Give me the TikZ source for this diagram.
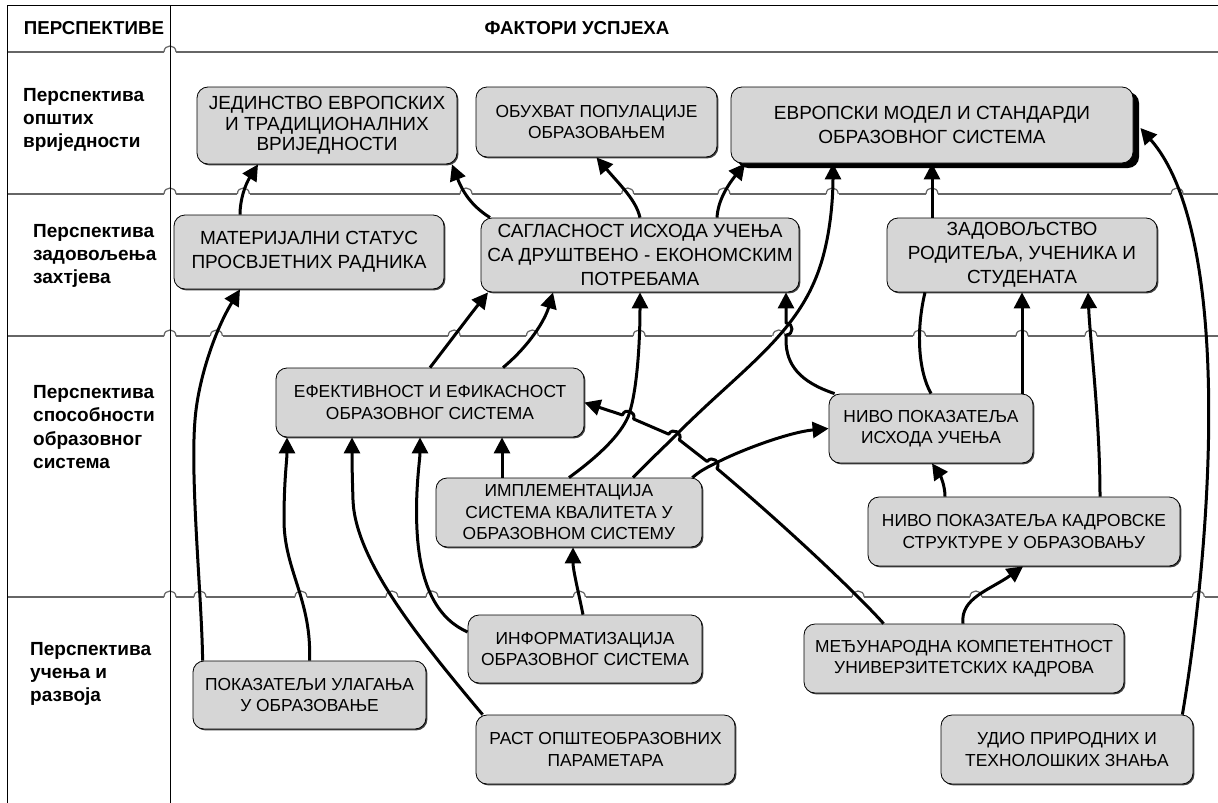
\documentclass[tikz,border=0pt]{standalone}
\usepackage{fontspec}
\setmainfont{Liberation Sans}
\usetikzlibrary{arrows.meta,shadows,intersections,calc}
\definecolor{boxgray}{HTML}{D6D6D6}
\tikzset{
  box/.style={draw=black,line width=0.8pt,fill=boxgray,rounded corners=11pt,align=center,inner sep=0pt,
    drop shadow={shadow xshift=1.4pt,shadow yshift=-1.4pt,fill=black!75,opacity=1}},
  fsm/.style={font=\fontsize{17.4}{21.5}\selectfont},
  fbig/.style={font=\fontsize{19}{24}\selectfont},
  arr/.style={line width=3pt,line join=round,-{Triangle[length=16pt,width=16pt]}},
  conn/.style={line width=3pt},
  rowl/.style={line width=1.2pt,draw=black!60},
  frame/.style={line width=0.9pt,draw=black},
  lab/.style={font=\bfseries\fontsize{19}{23.3}\selectfont,align=left,anchor=west,inner sep=0pt},
  head/.style={font=\bfseries\fontsize{18.7}{22}\selectfont,inner sep=0pt},
}
\newcommand\hopover[2]{%
  \path[name intersections={of=#1 and #2,by={hx}}];
  \fill[white] ([shift={(-6.3pt,-1.8pt)}]hx) rectangle ([shift={(6.3pt,1.8pt)}]hx);
  \draw[rowl] ([xshift=-6pt]hx) .. controls ([shift={(-6pt,8pt)}]hx) and ([shift={(6pt,8pt)}]hx) .. ([xshift=6pt]hx);
}
\begin{document}
\begin{tikzpicture}[x=1pt,y=-1pt]
\useasboundingbox (0,0) rectangle (1218,803);
\fill[white] (0,0) rectangle (1218,803);

% headers and perspective labels
\node[head] (h1) at (94,28) {ПЕРСПЕКТИВЕ};
\node[head] (h2) at (577,28) {ФАКТОРИ УСПЈЕХА};
\node[lab] (l1) at (23,120) {Перспектива\\општих\\вриједности};
\node[lab] (l2) at (33,256) {Перспектива\\задовољења\\захтјева};
\node[lab] (l3) at (33,427) {Перспектива\\способности\\образовног\\система};
\node[lab] (l4) at (30,674) {Перспектива\\учења и\\развоја};

% boxes
\node[box,font=\fontsize{19}{20.5}\selectfont,minimum width=260pt,minimum height=77pt] (jed) at (327,125.5) {ЈЕДИНСТВО ЕВРОПСКИХ\\И ТРАДИЦИОНАЛНИХ\\ВРИЈЕДНОСТИ};
\node[box,fsm,minimum width=241pt,minimum height=70pt] (obu) at (596.5,122) {ОБУХВАТ ПОПУЛАЦИЈЕ\\ОБРАЗОВАЊЕМ};
\node[box,fbig,minimum width=402pt,minimum height=76pt,drop shadow={shadow xshift=6pt,shadow yshift=-5pt,fill=black,opacity=1}] (evr) at (932,125) {ЕВРОПСКИ МОДЕЛ И СТАНДАРДИ\\ОБРАЗОВНОГ СИСТЕМА};
\node[box,fbig,minimum width=270pt,minimum height=74pt] (mat) at (309,252) {МАТЕРИЈАЛНИ СТАТУС\\ПРОСВЈЕТНИХ РАДНИКА};
\node[box,fbig,minimum width=318pt,minimum height=74pt] (sag) at (640,255) {САГЛАСНОСТ ИСХОДА УЧЕЊА\\СА ДРУШТВЕНО - ЕКОНОМСКИМ\\ПОТРЕБАМА};
\node[box,fbig,minimum width=270pt,minimum height=74pt] (zad) at (1022,255) {ЗАДОВОЉСТВО\\РОДИТЕЉА, УЧЕНИКА И\\СТУДЕНАТА};
\node[box,fsm,minimum width=308pt,minimum height=69pt] (ef) at (430,402.5) {ЕФЕКТИВНОСТ И ЕФИКАСНОСТ\\ОБРАЗОВНОГ СИСТЕМА};
\node[box,fsm,minimum width=204pt,minimum height=69pt] (nio) at (931,428.5) {НИВО ПОКАЗАТЕЉА\\ИСХОДА УЧЕЊА};
\node[box,fsm,minimum width=266pt,minimum height=69pt] (imp) at (569,512.5) {ИМПЛЕМЕНТАЦИЈА\\СИСТЕМА КВАЛИТЕТА У\\ОБРАЗОВНОМ СИСТЕМУ};
\node[box,fsm,minimum width=312pt,minimum height=69pt] (nik) at (1024,531.5) {НИВО ПОКАЗАТЕЉА КАДРОВСКЕ\\СТРУКТУРЕ У ОБРАЗОВАЊУ};
\node[box,fsm,minimum width=234pt,minimum height=68pt] (inf) at (585,649) {ИНФОРМАТИЗАЦИЈА\\ОБРАЗОВНОГ СИСТЕМА};
\node[box,fsm,minimum width=320pt,minimum height=69pt] (med) at (964,658.5) {МЕЂУНАРОДНА КОМПЕТЕНТНОСТ\\УНИВЕРЗИТЕТСКИХ КАДРОВА};
\node[box,fsm,minimum width=233pt,minimum height=68pt] (pok) at (309.5,695) {ПОКАЗАТЕЉИ УЛАГАЊА\\У ОБРАЗОВАЊЕ};
\node[box,fsm,minimum width=259pt,minimum height=69pt] (ras) at (605.5,749.5) {РАСТ ОПШТЕОБРАЗОВНИХ\\ПАРАМЕТАРА};
\node[box,fsm,minimum width=252pt,minimum height=69pt] (udi) at (1067,749.5) {УДИО ПРИРОДНИХ И\\ТЕХНОЛОШКИХ ЗНАЊА};

% row lines
\draw[rowl,name path=r1] (7,52) -- (1218,52);
\draw[rowl,name path=r2] (7,194) -- (1218,194);
\draw[rowl,name path=r3] (7,336) -- (1218,336);
\draw[rowl,name path=r4] (7,597) -- (1218,597);
\path[name path=col] (170,5) -- (170,803);

% crossing points of connectors
\coordinate (cg) at (628,417);
\coordinate (ch) at (674,437);
\coordinate (ci) at (712,465);

\def\cnA{([xshift=10pt]pok.north west) .. controls (202,600) and (190,480) .. (195,420) .. controls (198,380) and (215,330) .. ([xshift=-69pt]mat.south)}
\def\cnB{(pok.north) .. controls (312,600) and (284,570) .. (284,520) .. controls (284,480) and (287,460) .. ([xshift=-143pt]ef.south)}
\def\cnC{([xshift=7pt]ras.north west) .. controls (420,640) and (355,560) .. (353,500) .. controls (352,470) and (352,455) .. ([xshift=-78pt]ef.south)}
\def\cnD{([yshift=17pt]inf.west) .. controls (440,620) and (420,590) .. (417,530) .. controls (415,490) and (420,460) .. ([xshift=-10pt]ef.south)}
\def\cnE{([xshift=-67pt]imp.north) -- ([xshift=72pt]ef.south)}
\def\cnF{([xshift=-2pt]inf.north) .. controls (578,590) and (573,570) .. ([xshift=4pt]imp.south)}
\def\cnG{(imp.north) .. controls (600,455) and (620,435) .. (cg) .. controls (636,397) and (640,350) .. (sag.south)}
\def\cnH{([xshift=64pt]imp.north) .. controls (650,460) and (662,449) .. (ch) .. controls (735,375) and (790,340) .. (815,280) .. controls (830,245) and (833,200) .. ([xshift=-99pt]evr.south)}
\def\cnI{([xshift=-10pt]imp.north east) .. controls (700,471) and (706,468) .. (ci) .. controls (740,450) and (790,432) .. (nio.west)}
\def\cnJ{([xshift=80pt]med.north west) .. controls (858,595) and (790,530) .. ($(ci)+(4.9,3.5)$) .. controls ($(ci)+(9.5,-3)$) and ($(ci)+(-0.3,-10)$) .. ($(ci)+(-4.9,-3.5)$) -- ($(ch)+(5.3,2.85)$) .. controls ($(ch)+(9.1,-4.15)$) and ($(ch)+(-1.5,-9.85)$) .. ($(ch)+(-5.3,-2.85)$) -- ($(cg)+(5.6,2)$) .. controls ($(cg)+(8.3,-5.5)$) and ($(cg)+(-2.9,-9.5)$) .. ($(cg)+(-5.6,-2)$) -- (ef.east)}
\def\cnK{([xshift=-1pt]med.north) .. controls (960,598) and (990,590) .. ([xshift=-1pt]nik.south)}
\def\cnL{([xshift=-79pt]nik.north) .. controls (945,485) and (940,475) .. ([xshift=1pt]nio.south)}
\def\cnM{([xshift=76pt]nik.north) .. controls (1100,420) and (1090,340) .. ([xshift=66pt]zad.south)}
\def\cnN{([xshift=91pt]nio.north) -- (zad.south)}
\def\cnO{(nio.north) .. controls (918,370) and (916,330) .. ([xshift=-97pt]zad.south)}
\def\cnP{([xshift=6pt]nio.north west) .. controls (800,382) and (786,365) .. (786,340) -- (786,335) .. controls (794,335) and (794,323) .. (786,323) -- ([xshift=146pt]sag.south)}
\def\cnQ{(ef.north) .. controls (455,335) and (470,315) .. ([xshift=-152pt]sag.south)}
\def\cnR{([xshift=73pt]ef.north) .. controls (530,345) and (545,320) .. ([xshift=-87pt]sag.south)}
\def\cnS{([xshift=-150pt]sag.north) .. controls (470,205) and (462,190) .. ([xshift=125pt]jed.south)}
\def\cnT{([xshift=-69pt]mat.north) .. controls (240,200) and (245,185) .. ([xshift=-69pt]jed.south)}
\def\cnU{(sag.north) .. controls (636,200) and (620,185) .. (obu.south)}
\def\cnV{([xshift=77pt]sag.north) .. controls (718,200) and (728,185) .. ([xshift=-187pt]evr.south)}
\def\cnW{([xshift=-90pt]zad.north) -- (evr.south)}
\def\cnX{([xshift=-11pt]udi.north east) .. controls (1215,520) and (1230,230) .. ([xshift=7pt,yshift=-3pt]evr.east)}

\path[name path=cA] \cnA;
\path[name path=cB] \cnB;
\path[name path=cC] \cnC;
\path[name path=cD] \cnD;
\path[name path=cF] \cnF;
\path[name path=cG] \cnG;
\path[name path=cH] \cnH;
\path[name path=cJ] \cnJ;
\path[name path=cK] \cnK;
\path[name path=cM] \cnM;
\path[name path=cN] \cnN;
\path[name path=cO] \cnO;
\path[name path=cQ] \cnQ;
\path[name path=cR] \cnR;
\path[name path=cS] \cnS;
\path[name path=cT] \cnT;
\path[name path=cU] \cnU;
\path[name path=cV] \cnV;
\path[name path=cW] \cnW;
\path[name path=cX] \cnX;

% hops of the row lines
\hopover{r1}{col}
\hopover{r2}{col}\hopover{r2}{cT}\hopover{r2}{cS}\hopover{r2}{cU}\hopover{r2}{cV}\hopover{r2}{cH}\hopover{r2}{cW}\hopover{r2}{cX}
\hopover{r3}{col}\hopover{r3}{cA}\hopover{r3}{cQ}\hopover{r3}{cR}\hopover{r3}{cG}\hopover{r3}{cH}\hopover{r3}{cO}\hopover{r3}{cN}\hopover{r3}{cM}
\hopover{r4}{col}\hopover{r4}{cA}\hopover{r4}{cB}\hopover{r4}{cC}\hopover{r4}{cD}\hopover{r4}{cF}\hopover{r4}{cJ}\hopover{r4}{cK}\hopover{r4}{cX}

% frame
\draw[frame] (7,5) -- (1218,5);
\draw[frame] (7,5) -- (7,803);
\draw[frame] (170,5) -- (170,803);

% connectors
\draw[arr] \cnA;
\draw[arr] \cnB;
\draw[arr] \cnC;
\draw[arr] \cnD;
\draw[arr] \cnE;
\draw[arr] \cnF;
\draw[arr] \cnG;
\draw[arr] \cnH;
\draw[arr] \cnI;
\draw[arr] \cnJ;
\draw[arr] \cnK;
\draw[arr] \cnL;
\draw[arr] \cnM;
\draw[arr] \cnN;
\draw[conn] \cnO;
\draw[arr] \cnP;
\draw[arr] \cnQ;
\draw[arr] \cnR;
\draw[arr] \cnS;
\draw[arr] \cnT;
\draw[arr] \cnU;
\draw[arr] \cnV;
\draw[arr] \cnW;
\draw[arr] \cnX;
\end{tikzpicture}
\end{document}
